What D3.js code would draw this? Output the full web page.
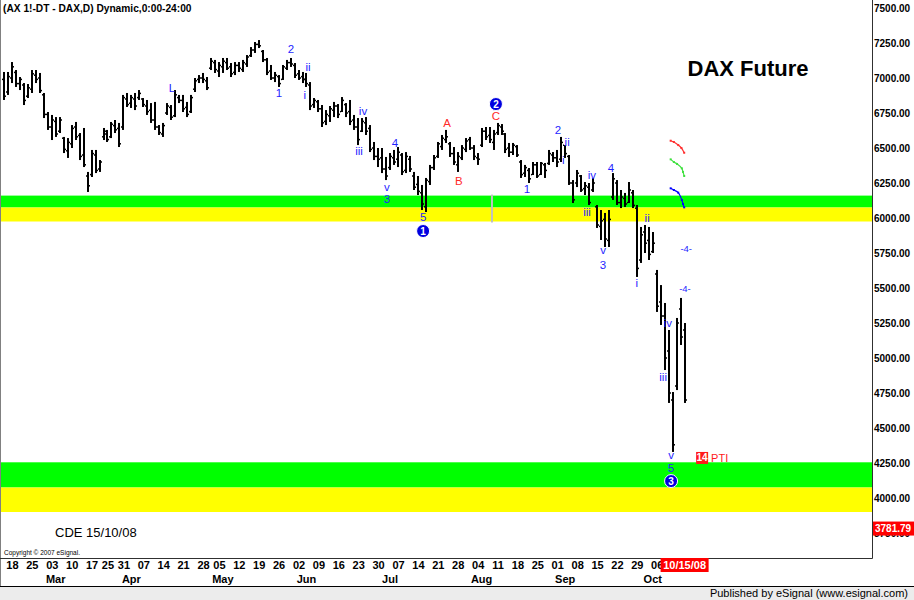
<!DOCTYPE html>
<html><head><meta charset="utf-8">
<script src="https://cdn.jsdelivr.net/npm/d3@7"></script>
<style>
html,body{margin:0;padding:0;background:#fff;}
svg{display:block;font-family:"Liberation Sans",Arial,sans-serif;}
</style></head><body><div id="chart"></div>
<script>
// ---- categories: trading days (Eurex, weekends and holidays removed) ----
const firstDay = "2008-02-14";
const lastDay = "2008-10-15";
const holidays = ["2008-03-21", "2008-03-24", "2008-05-01"];

// ---- OHLC series (DAX future, daily) ----
const high = [
7043,7043,7114,7057,7007,6964,6957,7057,7057,7036,
6893,6757,6736,6721,6721,6579,6571,6664,6686,6607,
6643,6329,6486,6486,6414,6643,6629,6686,6700,6679,
6879,6893,6879,6893,6914,6857,6843,6821,6829,6664,
6679,6821,6807,6914,6879,6879,6829,6879,7000,7021,
7036,7007,7143,7129,7114,7143,7143,7107,7114,7114,
7129,7164,7221,7257,7271,7200,7143,7093,7043,7021,
7093,7129,7143,7107,7057,7043,7036,6971,6857,6843,
6807,6771,6800,6829,6814,6864,6821,6843,6736,6714,
6714,6721,6664,6543,6500,6500,6436,6464,6486,6507,
6464,6471,6443,6329,6300,6236,6286,6379,6450,6543,
6593,6629,6543,6507,6471,6521,6571,6579,6521,6464,
6643,6650,6650,6629,6679,6671,6607,6536,6536,6521,
6414,6379,6357,6400,6400,6400,6393,6486,6471,6486,
6579,6521,6450,6271,6343,6307,6257,6250,6286,6093,
6057,6036,6057,6321,6271,6200,6179,6257,6200,6093,
5936,5950,5936,5900,5629,5521,5393,5200,4757,5286,
5429,5250];
const low = [
6843,6879,6964,6936,6914,6807,6857,6893,6964,6893,
6714,6629,6557,6579,6607,6464,6429,6500,6557,6414,
6364,6186,6293,6321,6329,6557,6543,6571,6607,6507,
6629,6793,6786,6771,6843,6793,6736,6679,6629,6593,
6579,6736,6700,6721,6821,6757,6721,6750,6900,6964,
6964,6914,7057,7036,7007,7036,7057,7007,7021,7043,
7043,7079,7150,7179,7214,7114,7021,6986,6971,6936,
6986,7057,7079,7000,6986,6964,6936,6771,6786,6757,
6650,6664,6686,6721,6714,6757,6721,6664,6629,6521,
6614,6593,6471,6414,6364,6321,6271,6343,6379,6364,
6307,6321,6329,6200,6164,6057,6043,6236,6343,6429,
6486,6536,6436,6379,6329,6414,6471,6486,6414,6379,
6507,6557,6536,6486,6593,6593,6464,6436,6450,6436,
6286,6293,6250,6307,6286,6307,6286,6379,6400,6364,
6400,6429,6236,6107,6221,6186,6164,6093,6186,5929,
5843,5793,5793,6129,6093,6071,6079,6107,6071,5579,
5679,5750,5700,5750,5329,5236,4914,4679,4329,4771,
5093,4679];
const open = [
6990,6900,7000,7040,6960,6950,6870,6920,7020,7000,
6880,6740,6650,6690,6620,6570,6480,6530,6650,6590,
6450,6300,6310,6450,6350,6580,6600,6580,6660,6640,
6650,6850,6820,6850,6860,6850,6800,6770,6700,6650,
6600,6750,6790,6730,6860,6840,6790,6760,6920,6990,
7000,6980,7070,7110,7050,7080,7110,7080,7040,7090,
7060,7100,7160,7200,7240,7190,7130,7050,7000,7010,
6990,7070,7110,7090,7030,7010,6990,6950,6810,6830,
6780,6690,6730,6770,6800,6760,6810,6760,6700,6650,
6620,6680,6640,6500,6440,6430,6350,6360,6430,6420,
6450,6340,6420,6300,6240,6180,6080,6260,6360,6440,
6510,6560,6530,6460,6380,6430,6490,6560,6500,6430,
6520,6620,6590,6540,6610,6650,6600,6500,6470,6510,
6400,6320,6340,6310,6380,6310,6380,6390,6450,6430,
6420,6520,6440,6250,6250,6300,6210,6220,6200,6080,
5940,5990,5840,6150,6250,6110,6140,6110,6180,6070,
5700,5900,5840,5760,5600,5400,5300,5050,4700,4800,
5350,5200];
const close = [
6870,7010,7080,6960,6990,6840,6930,7030,6990,6910,
6740,6650,6700,6600,6700,6490,6540,6640,6580,6440,
6380,6230,6460,6340,6400,6620,6560,6670,6630,6530,
6860,6810,6860,6800,6890,6810,6760,6700,6650,6610,
6660,6800,6720,6880,6840,6780,6740,6860,6980,7000,
6990,6930,7120,7060,7090,7120,7070,7030,7090,7070,
7110,7150,7200,7240,7230,7130,7040,7000,7020,6960,
7080,7110,7100,7020,7000,6990,6960,6800,6840,6780,
6680,6740,6780,6800,6740,6840,6750,6690,6650,6560,
6690,6620,6490,6440,6420,6350,6300,6440,6400,6470,
6330,6440,6350,6220,6190,6100,6270,6360,6430,6530,
6570,6580,6460,6400,6440,6500,6550,6500,6440,6420,
6620,6580,6560,6600,6660,6620,6490,6470,6520,6450,
6310,6360,6280,6380,6300,6390,6340,6460,6430,6400,
6540,6460,6250,6130,6320,6200,6230,6110,6250,5950,
5980,5850,5990,6280,6110,6150,6100,6200,6090,5640,
5880,5820,5740,5820,5370,5300,5000,4750,4380,5250,
5150,4700];

// ---- axis labels ----
const tickDates = ["2008-02-18","2008-02-25","2008-03-03","2008-03-10","2008-03-17","2008-03-25","2008-03-31",
  "2008-04-07","2008-04-14","2008-04-21","2008-04-28","2008-05-05","2008-05-12","2008-05-19","2008-05-26",
  "2008-06-02","2008-06-09","2008-06-16","2008-06-23","2008-06-30","2008-07-07","2008-07-14","2008-07-21",
  "2008-07-28","2008-08-04","2008-08-11","2008-08-18","2008-08-25","2008-09-01","2008-09-08","2008-09-15",
  "2008-09-22","2008-09-29","2008-10-06"];
const tickLabels = ["18","25","03","10","17","25","31","07","14","21","28","05","12","19","26","02","09","16",
  "23","30","07","14","21","28","04","11","18","25","01","08","15","22","29","06"];
const monthDates = ["2008-03-04","2008-04-02","2008-05-06","2008-06-04","2008-07-03","2008-08-05","2008-09-03","2008-10-03"];
const monthLabels = ["Mar","Apr","May","Jun","Jul","Aug","Sep","Oct"];
const priceTicks = [7500,7250,7000,6750,6500,6250,6000,5750,5500,5250,5000,4750,4500,4250,4000,3750];
const lastPrice = 3781.79;
const lastDateLabel = "10/15/08";

// ---- support / target zones ----
const zoneLow   = [6075, 5975, 4075, 3900];
const zoneHigh  = [6160, 6075, 4255, 4075];
const zoneColor = ["#00ff00", "#ffff00", "#00ff00", "#ffff00"];

// ---- Elliott wave annotations (bar index, price) ----
const waveText  = ["L","1","2","ii","i","iv","iii","4","v","3","5","A","B","C","1","2","ii","i","iv","iii","4","v","3","ii","i","iv","iii","v","5"];
const waveIdx   = [42.2,69.1,72.1,76.4,75.6,90.2,89.2,98.2,96.2,96.2,105.3,111.3,114.3,123.6,131.4,139.2,141.5,140.5,147.7,146.5,152.5,150.5,150.5,161.6,159.0,166.8,165.6,167.6,167.6];
const wavePrice = [6929,6893,7207,7079,6879,6764,6479,6536,6225,6136,6007,6679,6264,6729,6207,6629,6543,6414,6307,6043,6357,5771,5664,6000,5536,5250,4864,4307,4214];
const waveColor = ["b","b","b","b","b","b","b","b","b","b","b","r","r","r","b","b","b","b","b","b","b","b","b","b","b","b","b","b","b"];
const circleText  = ["1","2","3"];
const circleIdx   = [105.3,123.6,167.6];
const circlePrice = [5907,6814,4121];
const smallText  = ["-4-","-4-"];
const smallIdx   = [171.4,171.1];
const smallPrice = [5779,5500];
// projection arcs
const arcRedIdx = [167.5,168.3,169.4,170.2,170.9];
const arcRedPrice = [6552,6543,6521,6500,6466];
const arcGreenIdx = [167.5,168.3,169.1,170.3,170.6,170.9];
const arcGreenPrice = [6419,6400,6386,6355,6329,6300];
const arcBlueIdx = [167.5,168.3,169.4,170.3,170.6,170.9];
const arcBluePrice = [6212,6200,6181,6129,6100,6076];
const markerIdx = 122.6;
const ptiIdx = 175.4, ptiPrice = 4286, ptiValue = "14";

// ---- build ----
const fmt = d3.timeFormat("%Y-%m-%d");
const parse = d3.timeParse("%Y-%m-%d");
const days = d3.timeDay.range(parse(firstDay), d3.timeDay.offset(parse(lastDay), 1))
  .filter(d => d.getDay() % 6 !== 0 && !holidays.includes(fmt(d))).map(fmt);
const n = Math.min(days.length, high.length);
const idxOf = s => days.indexOf(s);

const W = 914, H = 600;
const plotR = 872, plotB = 558;
const x = d3.scaleLinear().domain([0, n - 1]).range([4, 684.6]);
const y = d3.scaleLinear().domain([3750, 7500]).range([533, 8]);

const svg = d3.select("#chart").append("svg").attr("width", W).attr("height", H);
svg.append("rect").attr("width", W).attr("height", H).attr("fill", "#fff");
svg.append("defs").append("clipPath").attr("id", "clip")
  .append("rect").attr("x", 1).attr("y", 0).attr("width", plotR - 1).attr("height", plotB);

const plot = svg.append("g").attr("clip-path", "url(#clip)");

// zones
plot.selectAll("rect.zone").data(zoneLow).join("rect").attr("class", "zone")
  .attr("x", 1).attr("width", plotR - 1)
  .attr("y", (d, i) => y(zoneHigh[i])).attr("height", (d, i) => y(zoneLow[i]) - y(zoneHigh[i]))
  .attr("fill", (d, i) => zoneColor[i]);

// gray marker in the zone
plot.append("rect").attr("x", x(markerIdx) - 1).attr("width", 2)
  .attr("y", y(zoneHigh[0]) - 1).attr("height", y(zoneLow[1]) - y(zoneHigh[0]) + 2).attr("fill", "#c0c0c0");

// bars
const bars = plot.append("g");
for (let i = 0; i < n; i++) {
  const cx = Math.round(x(i));
  bars.append("rect").attr("x", cx - 1).attr("width", 2)
    .attr("y", y(high[i])).attr("height", Math.max(1, y(low[i]) - y(high[i]))).attr("fill", "#000");
  bars.append("rect").attr("x", cx - 2).attr("width", 1).attr("y", y(open[i]) - 0.75).attr("height", 1.5).attr("fill", "#000");
  bars.append("rect").attr("x", cx + 1).attr("width", 1).attr("y", y(close[i]) - 0.75).attr("height", 1.5).attr("fill", "#000");
}

// wave labels
plot.selectAll("text.wave").data(waveText).join("text").attr("class", "wave")
  .attr("x", (d, i) => x(waveIdx[i])).attr("y", (d, i) => y(wavePrice[i]))
  .attr("text-anchor", "middle").attr("dominant-baseline", "central")
  .attr("font-size", 11.5).attr("fill", (d, i) => waveColor[i] === "r" ? "#ff2a2a" : "#1f1fff")
  .text(d => d);

plot.selectAll("text.small").data(smallText).join("text").attr("class", "small")
  .attr("x", (d, i) => x(smallIdx[i])).attr("y", (d, i) => y(smallPrice[i]))
  .attr("text-anchor", "middle").attr("dominant-baseline", "central")
  .attr("font-size", 9.5).attr("fill", "#1f1fff").text(d => d);

// circled numbers
const circ = plot.selectAll("g.circ").data(circleText).join("g").attr("class", "circ")
  .attr("transform", (d, i) => `translate(${x(circleIdx[i])},${y(circlePrice[i])})`);
circ.append("circle").attr("r", 6.5).attr("fill", "#0000e0").attr("stroke", "#fff").attr("stroke-width", 1);
circ.append("text").attr("text-anchor", "middle").attr("dominant-baseline", "central")
  .attr("font-size", 10).attr("font-weight", "bold").attr("fill", "#fff").text(d => d);

// projection arcs
const line = d3.line().x(d => x(d[0])).y(d => y(d[1])).curve(d3.curveCatmullRom);
[[arcRedIdx, arcRedPrice, "#ff3030"], [arcGreenIdx, arcGreenPrice, "#40e040"], [arcBlueIdx, arcBluePrice, "#0000ff"]]
  .forEach(([ix, pr, col]) => {
    const pts = ix.map((v, k) => [v, pr[k]]);
    plot.append("path").attr("d", line(pts)).attr("fill", "none").attr("stroke", col)
      .attr("stroke-width", 1.2);
    plot.selectAll(null).data(pts).join("rect")
      .attr("x", d => x(d[0]) - 1).attr("y", d => y(d[1]) - 1).attr("width", 2).attr("height", 2).attr("fill", col);
  });

// PTI box
const pti = plot.append("g").attr("transform", `translate(${x(ptiIdx)},${y(ptiPrice)})`);
pti.append("rect").attr("x", -6).attr("y", -6).attr("width", 12).attr("height", 12).attr("fill", "#ff1a1a");
pti.append("text").attr("text-anchor", "middle").attr("dominant-baseline", "central")
  .attr("font-size", 10).attr("font-weight", "bold").attr("fill", "#fff").text(ptiValue);
pti.append("text").attr("x", 9).attr("dominant-baseline", "central")
  .attr("font-size", 11).attr("fill", "#ff1a1a").text("PTI");

// title texts
svg.append("text").attr("x", 3).attr("y", 12).attr("font-size", 10.2).attr("font-weight", "bold")
  .attr("fill", "#000").text("(AX 1!-DT - DAX,D) Dynamic,0:00-24:00");
svg.append("text").attr("x", 748).attr("y", 76).attr("text-anchor", "middle").attr("font-size", 22)
  .attr("font-weight", "bold").attr("fill", "#000").text("DAX Future");
svg.append("text").attr("x", 55).attr("y", 537).attr("font-size", 13).attr("fill", "#000").text("CDE 15/10/08");
svg.append("text").attr("x", 4).attr("y", 555).attr("font-size", 6.5).attr("fill", "#000")
  .text("Copyright \u00a9 2007 eSignal.");

// frame
svg.append("line").attr("x1", 0.5).attr("x2", 0.5).attr("y1", 0).attr("y2", 586).attr("stroke", "#808080");
svg.append("line").attr("x1", plotR + 0.5).attr("x2", plotR + 0.5).attr("y1", 0).attr("y2", plotB + 0.5).attr("stroke", "#303030");
svg.append("line").attr("x1", 0).attr("x2", plotR + 0.5).attr("y1", plotB + 0.5).attr("y2", plotB + 0.5).attr("stroke", "#303030");

// price axis
const yAxis = d3.axisRight(y).tickValues(priceTicks).tickFormat(d3.format(".2f")).tickSize(0).tickPadding(2);
const ya = svg.append("g").attr("transform", `translate(${plotR},0)`).call(yAxis);
ya.select(".domain").remove();
ya.selectAll("text").attr("font-size", 10).attr("font-weight", "bold").attr("fill", "#000")
  .attr("font-family", "'Liberation Sans',Arial,sans-serif");
const lp = svg.append("g").attr("transform", `translate(${plotR + 1},${y(lastPrice)})`);
lp.append("rect").attr("x", 0).attr("y", -7).attr("width", W - plotR - 1).attr("height", 14).attr("fill", "#ff0000");
lp.append("text").attr("x", 2).attr("dominant-baseline", "central").attr("font-size", 10).attr("font-weight", "bold")
  .attr("fill", "#fff").text(lastPrice.toFixed(2));

// date axis
const tickIdx = tickDates.map(idxOf);
const xAxis = d3.axisBottom(x).tickValues(tickIdx).tickFormat((d, i) => tickLabels[i]).tickSize(0).tickPadding(3);
const xa = svg.append("g").attr("transform", `translate(0,${plotB})`).call(xAxis);
xa.select(".domain").remove();
xa.selectAll("text").attr("font-size", 11).attr("font-weight", "bold").attr("fill", "#000")
  .attr("font-family", "'Liberation Sans',Arial,sans-serif");
svg.selectAll("text.month").data(monthLabels).join("text").attr("class", "month")
  .attr("x", (d, i) => x(idxOf(monthDates[i]))).attr("y", 583).attr("text-anchor", "middle")
  .attr("font-size", 11).attr("font-weight", "bold").attr("fill", "#000").text(d => d);
const ld = svg.append("g").attr("transform", `translate(${x(n - 1)},${plotB + 7})`);
ld.append("rect").attr("x", -24).attr("y", -7).attr("width", 48).attr("height", 14).attr("fill", "#ff0000");
ld.append("text").attr("text-anchor", "middle").attr("dominant-baseline", "central").attr("font-size", 11)
  .attr("font-weight", "bold").attr("fill", "#fff").text(lastDateLabel);

// footer
svg.append("rect").attr("x", 0).attr("y", 586).attr("width", W).attr("height", H - 586).attr("fill", "#ececec");
svg.append("line").attr("x1", 0).attr("x2", W).attr("y1", 586.5).attr("y2", 586.5).attr("stroke", "#000");
svg.append("text").attr("x", 908).attr("y", 597).attr("text-anchor", "end").attr("font-size", 11)
  .attr("fill", "#000").text("Published by eSignal (www.esignal.com)");
</script></body></html>
